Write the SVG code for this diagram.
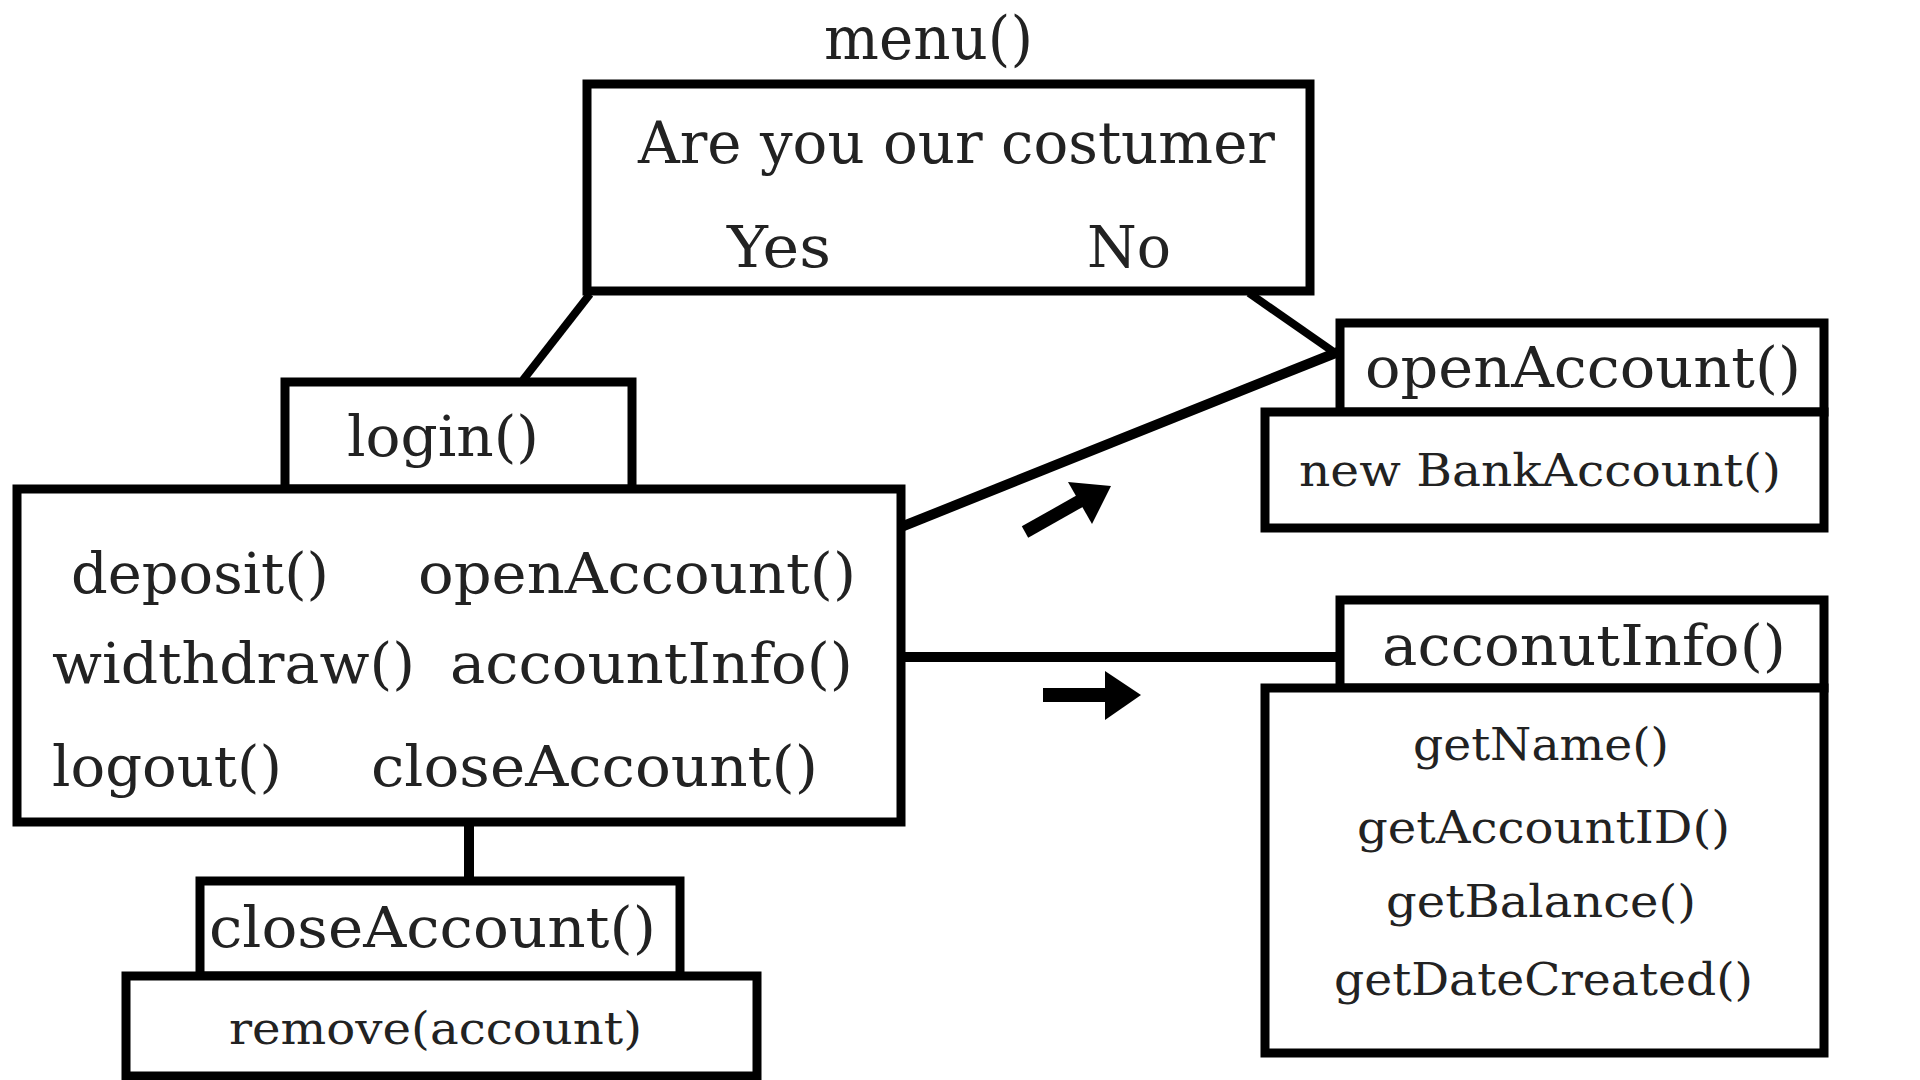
<svg xmlns="http://www.w3.org/2000/svg" width="1920" height="1080" viewBox="0 0 1920 1080">
<style>
.box{fill:#fff;stroke:#000;stroke-width:9}
.t{font-family:"DejaVu Serif","Liberation Serif",serif;fill:#222}
.big{font-size:57px}
.mid{font-size:56px}
.sm{font-size:45px}
.ln{stroke:#000;fill:none}
</style>
<rect width="1920" height="1080" fill="#fff"/>
<text class="t" x="824" y="59" font-size="60" textLength="209" lengthAdjust="spacingAndGlyphs">menu()</text>
<g id="connectors">
<line class="ln" x1="590" y1="294" x2="523" y2="380" stroke-width="8"/>
<line class="ln" x1="1249" y1="293" x2="1338" y2="355" stroke-width="8"/>
<line class="ln" x1="901" y1="527" x2="1338" y2="352" stroke-width="10"/>
<line class="ln" x1="901" y1="657" x2="1340" y2="657" stroke-width="10"/>
<line class="ln" x1="469" y1="822" x2="469" y2="881" stroke-width="10"/>
<g id="arrow1">
<line class="ln" x1="1025" y1="532" x2="1080" y2="501" stroke-width="13"/>
<polygon points="1068,482 1111,486 1092,524" fill="#000"/>
</g>
<g id="arrow2">
<rect x="1043" y="688" width="64" height="14" fill="#000"/>
<polygon points="1105,671 1141,695 1105,720" fill="#000"/>
</g>
</g>
<g id="menu">
<rect class="box" x="587" y="84" width="723" height="207" stroke-width="8"/>
<text class="t big" x="638" y="163" textLength="637" lengthAdjust="spacingAndGlyphs">Are you our costumer</text>
<text class="t big" x="727" y="267" textLength="104" lengthAdjust="spacingAndGlyphs">Yes</text>
<text class="t big" x="1087" y="267" textLength="84" lengthAdjust="spacingAndGlyphs">No</text>
</g>
<g id="login">
<rect class="box" x="285" y="382" width="347" height="107"/>
<text class="t mid" x="347" y="456" textLength="192" lengthAdjust="spacingAndGlyphs">login()</text>
<rect class="box" x="17" y="489" width="884" height="333"/>
<text class="t mid" x="71" y="593" textLength="258" lengthAdjust="spacingAndGlyphs">deposit()</text>
<text class="t mid" x="418" y="593" textLength="438" lengthAdjust="spacingAndGlyphs">openAccount()</text>
<text class="t mid" x="52" y="683" textLength="363" lengthAdjust="spacingAndGlyphs">widthdraw()</text>
<text class="t mid" x="450" y="683" textLength="403" lengthAdjust="spacingAndGlyphs">accountInfo()</text>
<text class="t mid" x="52" y="786" textLength="230" lengthAdjust="spacingAndGlyphs">logout()</text>
<text class="t mid" x="371" y="786" textLength="447" lengthAdjust="spacingAndGlyphs">closeAccount()</text>
</g>
<g id="closeAccount">
<rect class="box" x="200" y="881" width="480" height="95"/>
<text class="t mid" x="209" y="947" textLength="447" lengthAdjust="spacingAndGlyphs">closeAccount()</text>
<rect class="box" x="126" y="976" width="631" height="100"/>
<text class="t sm" x="229" y="1044" textLength="413" lengthAdjust="spacingAndGlyphs">remove(account)</text>
</g>
<g id="openAccount">
<rect class="box" x="1340" y="323" width="484" height="89"/>
<text class="t mid" x="1365" y="387" textLength="436" lengthAdjust="spacingAndGlyphs">openAccount()</text>
<rect class="box" x="1265" y="412" width="559" height="116"/>
<text class="t sm" x="1299" y="486" textLength="482" lengthAdjust="spacingAndGlyphs">new BankAccount()</text>
</g>
<g id="accountInfo">
<rect class="box" x="1340" y="600" width="484" height="88"/>
<text class="t mid" x="1382" y="665" textLength="404" lengthAdjust="spacingAndGlyphs">acconutInfo()</text>
<rect class="box" x="1265" y="688" width="559" height="365"/>
<text class="t sm" x="1413" y="760" textLength="256" lengthAdjust="spacingAndGlyphs">getName()</text>
<text class="t sm" x="1357" y="843" textLength="373" lengthAdjust="spacingAndGlyphs">getAccountID()</text>
<text class="t sm" x="1386" y="917" textLength="310" lengthAdjust="spacingAndGlyphs">getBalance()</text>
<text class="t sm" x="1334" y="995" textLength="419" lengthAdjust="spacingAndGlyphs">getDateCreated()</text>
</g>
</svg>
